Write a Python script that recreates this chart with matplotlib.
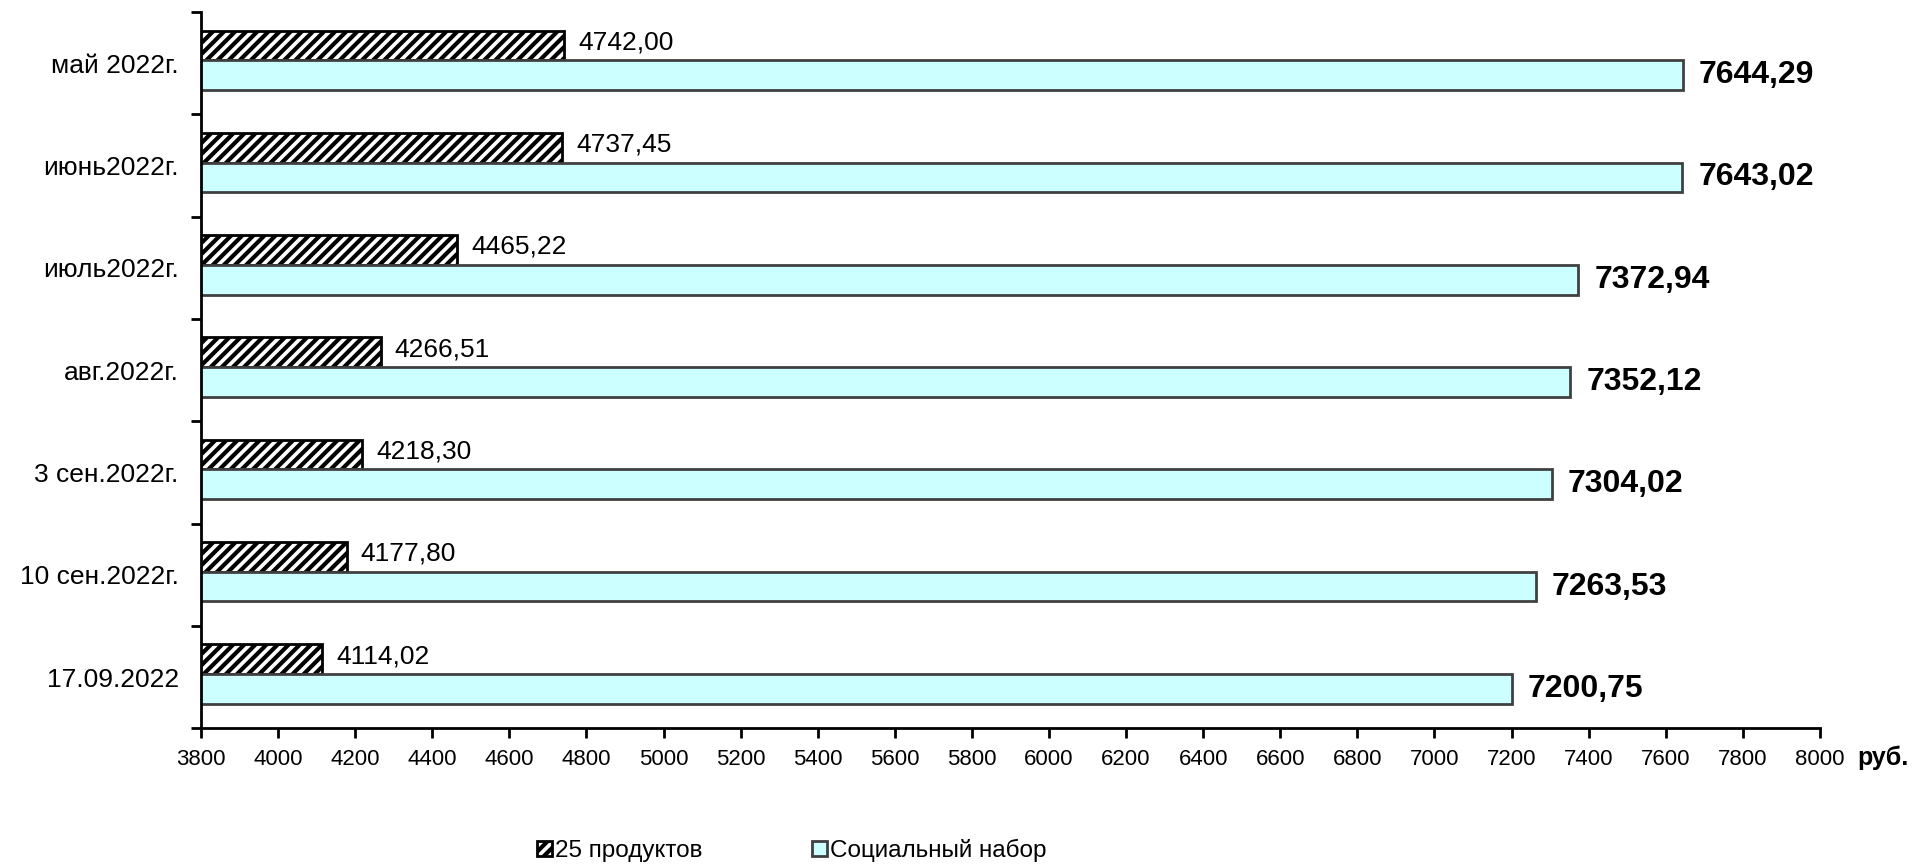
import matplotlib
matplotlib.use("Agg")
import matplotlib.pyplot as plt
import numpy as np

plt.rcParams['font.family'] = ['Liberation Sans', 'DejaVu Sans']
plt.rcParams['hatch.linewidth'] = 3

periods = ["май 2022г.", "июнь2022г.", "июль2022г.", "авг.2022г.",
           "3 сен.2022г.", "10 сен.2022г.", "17.09.2022"]
products25 = [4742.00, 4737.45, 4465.22, 4266.51, 4218.30, 4177.80, 4114.02]
social_set = [7644.29, 7643.02, 7372.94, 7352.12, 7304.02, 7263.53, 7200.75]
xticks = list(range(3800, 8001, 200))


def fmt(v):
    return f"{v:.2f}".replace(".", ",")


fig = plt.figure(figsize=(19.32, 8.68), dpi=100)
ax = fig.add_axes([0.104, 0.161, 0.838, 0.825])

n = len(periods)
y = np.arange(n)[::-1] + 0.03  # first period at top, group slightly above slot centre
h = 0.29

b1 = ax.barh(y + h / 2, products25, height=h, color="white", edgecolor="black",
             hatch="///", linewidth=2, label="25 продуктов")
b2 = ax.barh(y - h / 2, social_set, height=h, color="#CCFFFF", edgecolor="#404040",
             linewidth=2, label="Социальный набор")

for yy, v in zip(y, products25):
    ax.annotate(fmt(v), xy=(v, yy + h / 2), xytext=(14, 3), textcoords="offset pixels",
                va="center", ha="left", fontsize=19)
for yy, v in zip(y, social_set):
    ax.annotate(fmt(v), xy=(v, yy - h / 2), xytext=(16, 0), textcoords="offset pixels",
                va="center", ha="left", fontsize=23, fontweight="bold")

ax.set_xlim(3800, 8000)
ax.set_ylim(-0.5, n - 0.5)
ax.set_xticks(xticks)
ax.tick_params(axis="x", labelsize=16, length=7, width=2, direction="out", pad=8)

ax.set_yticks(np.arange(n)[::-1])
ax.set_yticklabels(periods, fontsize=19)
ax.set_yticks(np.arange(-0.5, n, 1.0), minor=True)
ax.tick_params(axis="y", which="major", length=0, pad=16)
ax.tick_params(axis="y", which="minor", length=7, width=2, direction="out")

for side in ["top", "right"]:
    ax.spines[side].set_visible(False)
for side in ["left", "bottom"]:
    ax.spines[side].set_linewidth(2)

ax.annotate("руб.", xy=(1, 0), xycoords="axes fraction", xytext=(37, -30),
            textcoords="offset pixels", ha="left", va="center",
            fontsize=18, fontweight="bold")

fig.legend(handles=[b1, b2], loc="center", bbox_to_anchor=(0.41, 0.02), ncol=2,
           frameon=False, fontsize=17.5, handlelength=0.6, handleheight=0.6,
           handletextpad=0.15, columnspacing=4.5)

fig.savefig("out.png", dpi=100)
